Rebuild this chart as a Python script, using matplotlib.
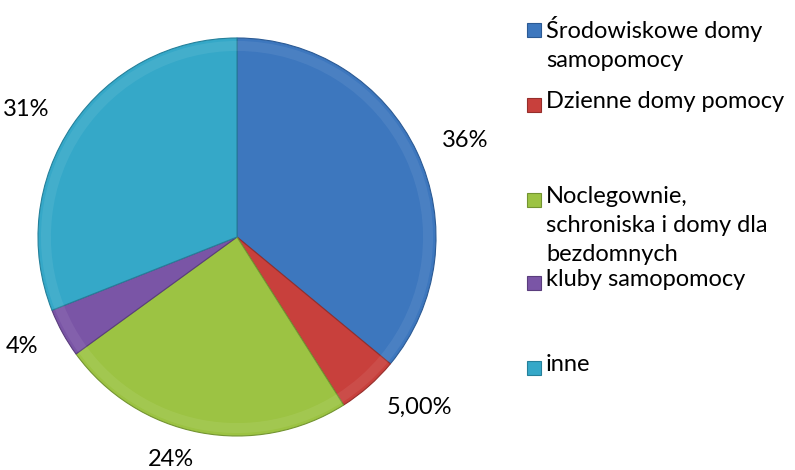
import matplotlib.pyplot as plt
from matplotlib.patches import Rectangle

labels = ["Środowiskowe domy\nsamopomocy", "Dzienne domy pomocy",
          "Noclegownie,\nschroniska i domy dla\nbezdomnych", "kluby samopomocy", "inne"]
values = [36, 5, 24, 4, 31]
pct_labels = ["36%", "5,00%", "24%", "4%", "31%"]
colors = ["#3D77BE", "#C8403C", "#9CC343", "#7A55A6", "#35A8C8"]
edge_colors = ["#2B5A94", "#962E2B", "#739431", "#5A3D7D", "#25809A"]
legend_y = [30, 105, 200, 283, 368]  # pixel rows of legend markers

plt.rcParams["font.family"] = ["Lato", "DejaVu Sans"]

W, H = 795, 470
fig = plt.figure(figsize=(W / 100, H / 100), dpi=100)
ax = fig.add_axes([38 / W, 34 / H, 398 / W, 398 / H])

wedges, texts = ax.pie(
    values,
    labels=pct_labels,
    colors=colors,
    startangle=90,
    counterclock=False,
    labeldistance=1.14,
    wedgeprops=dict(linewidth=0.8),
    textprops=dict(fontsize=17, color="black"),
)
for w, ec in zip(wedges, edge_colors):
    w.set_edgecolor(ec)

# light bevel band along the rim
ax.pie(values, startangle=90, counterclock=False, radius=0.985,
       colors=["white"] * len(values),
       wedgeprops=dict(width=0.05, alpha=0.07, linewidth=0))
ax.set_xlim(-1, 1)
ax.set_ylim(-1, 1)
ax.set_aspect("equal")

# legend drawn by hand
for lab, c, ec, y in zip(labels, colors, edge_colors, legend_y):
    fig.patches.append(Rectangle((527 / W, 1 - (y + 7) / H), 14 / W, 14 / H,
                                 transform=fig.transFigure, facecolor=c,
                                 edgecolor=ec, linewidth=0.8))
    fig.text(546 / W, 1 - (y - 14) / H, lab, fontsize=17, va="top", ha="left",
             linespacing=1.48)

fig.savefig("out.png", dpi=100)
